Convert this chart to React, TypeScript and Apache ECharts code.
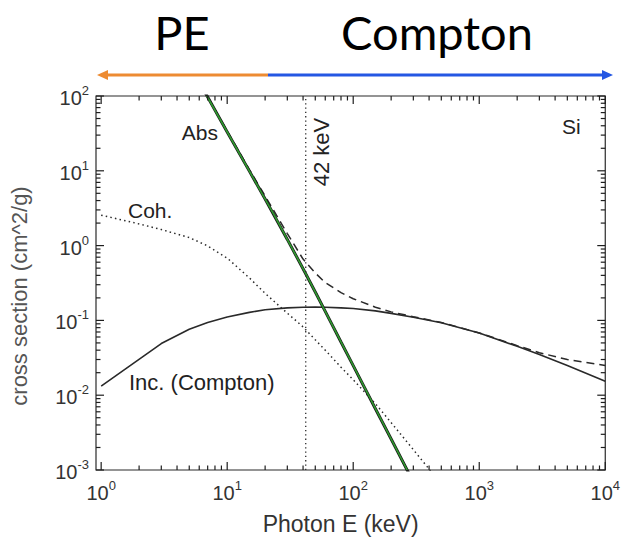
import React, { useEffect, useRef } from 'react';
import * as echarts from 'echarts';

// ---- data ----
const energyAbs = [5, 7, 10, 15, 20, 30, 40, 50, 60, 80, 100, 150, 200, 300];
const absValues = [267, 97, 33, 9.9, 4.2, 1.21, 0.49, 0.24, 0.132, 0.0515, 0.0249, 0.0066, 0.0026, 0.00069];

const energyFit = [6.9, 23.2, 42.3, 79.8, 268];
const fitValues = [100, 2.69, 0.413, 0.052, 0.001];

const energyCoh = [1, 2, 3, 5, 7, 10, 15, 20, 30, 40, 50, 60, 80, 100, 150, 200, 300, 400, 500];
const cohValues = [2.55, 1.95, 1.64, 1.28, 0.99, 0.68, 0.37, 0.23, 0.125, 0.082, 0.055, 0.04, 0.0237, 0.0161, 0.0077, 0.0043, 0.00187, 0.00103, 0.0006];

const energyInc = [1, 3, 5, 7, 10, 15, 20, 30, 40, 50, 60, 80, 100, 150, 200, 300, 500, 1000, 2000, 3000, 5000, 10000];
const incValues = [0.0132, 0.049, 0.076, 0.094, 0.111, 0.128, 0.139, 0.147, 0.15, 0.151, 0.15, 0.147, 0.144, 0.134, 0.124, 0.11, 0.093, 0.068, 0.045, 0.035, 0.025, 0.0154];

const energyTot = [5, 7, 10, 15, 20, 30, 40, 50, 60, 80, 100, 150, 200, 300, 500, 1000, 2000, 3000, 5000, 10000];
const totValues = [270, 98, 34, 10.4, 4.6, 1.45, 0.66, 0.43, 0.32, 0.235, 0.195, 0.15, 0.13, 0.112, 0.094, 0.068, 0.046, 0.037, 0.03, 0.025];

const edgeEnergy = 42;
const xDecades = [0, 1, 2, 3, 4];
const yDecades = [-3, -2, -1, 0, 1, 2];
const X_MIN = 0.91, X_MAX = 10000, Y_MIN = 0.001, Y_MAX = 100;

const FONT = '"Liberation Sans", Arial, Helvetica, sans-serif';
const INK = '#2a2a2a';
const MAJ = 8, MINOR = 4.5;

const pairs = (xs: number[], ys: number[]) => xs.map((x, i) => [x, ys[i]]);

// tick items: [x, y, length, kind(0 = x tick, 1 = y tick)]
const tickData: number[][] = [];
xDecades.forEach((d) => {
  const b = Math.pow(10, d);
  tickData.push([b, Y_MIN, MAJ, 0]);
  if (d < 4) for (let m = 2; m <= 9; m++) tickData.push([b * m, Y_MIN, MINOR, 0]);
});
yDecades.forEach((d) => {
  const b = Math.pow(10, d);
  tickData.push([X_MIN, b, MAJ, 1]);
  if (d < 2) for (let m = 2; m <= 9; m++) tickData.push([X_MIN, b * m, MINOR, 1]);
});

const isPow10 = (v: number) => {
  const l = Math.log10(v);
  return Math.abs(l - Math.round(l)) < 1e-6;
};
const powLabel = (v: number) => {
  if (!isPow10(v)) return '';
  const e = Math.round(Math.log10(v));
  return `{b|10}{s|${e}}`;
};
const rich = {
  b: { fontSize: 20, fontFamily: FONT, color: '#333', padding: [4, 0, 0, 0], verticalAlign: 'bottom' },
  s: { fontSize: 13, fontFamily: FONT, color: '#333', verticalAlign: 'top' },
};

export default function App() {
  const ref = useRef<HTMLDivElement>(null);
  useEffect(() => {
    if (!ref.current) return;
    const chart = echarts.init(ref.current, undefined, { renderer: 'svg' });
    const tickStyle = { stroke: '#1e1e1e', lineWidth: 1.2 };
    const renderTick = (params: any, api: any) => {
      const len = api.value(2);
      const kind = api.value(3);
      if (kind === 0) {
        const v = api.value(0);
        const pb = api.coord([v, Y_MIN]);
        const pt = api.coord([v, Y_MAX]);
        return {
          type: 'group', children: [
            { type: 'line', shape: { x1: pb[0], y1: pb[1], x2: pb[0], y2: pb[1] - len }, style: tickStyle },
            { type: 'line', shape: { x1: pt[0], y1: pt[1], x2: pt[0], y2: pt[1] + len }, style: tickStyle },
          ],
        };
      }
      const v = api.value(1);
      const pl = api.coord([X_MIN, v]);
      const pr = api.coord([X_MAX, v]);
      return {
        type: 'group', children: [
          { type: 'line', shape: { x1: pl[0], y1: pl[1], x2: pl[0] + len, y2: pl[1] }, style: tickStyle },
          { type: 'line', shape: { x1: pr[0], y1: pr[1], x2: pr[0] - len, y2: pr[1] }, style: tickStyle },
        ],
      };
    };
    const option: any = {
      animation: false,
      grid: { left: 93, right: 16, top: 96, bottom: 65, show: true, borderColor: INK, borderWidth: 1.2, backgroundColor: 'transparent' },
      xAxis: {
        type: 'log', logBase: 10, min: X_MIN, max: X_MAX,
        axisLine: { show: false }, axisTick: { show: false }, splitLine: { show: false },
        axisLabel: { formatter: powLabel, rich, margin: 9, showMinLabel: true, showMaxLabel: true },
        name: 'Photon E (keV)', nameLocation: 'middle', nameGap: 42,
        nameTextStyle: { fontSize: 23, fontFamily: FONT, color: '#333', padding: [0, 20, 0, 0] },
      },
      yAxis: {
        type: 'log', logBase: 10, min: Y_MIN, max: Y_MAX,
        axisLine: { show: false }, axisTick: { show: false }, splitLine: { show: false },
        axisLabel: { formatter: powLabel, rich, margin: 7, showMinLabel: true, showMaxLabel: true },
        name: 'cross section (cm^2/g)', nameLocation: 'middle', nameGap: 66,
        nameTextStyle: { fontSize: 22, fontFamily: FONT, color: '#555', padding: [0, 26, 0, 0] },
      },
      series: [
        { name: 'ticks', type: 'custom', data: tickData, renderItem: renderTick, clip: false, silent: true, z: 5,
          encode: { x: 0, y: 1 } },
        { name: 'Coh.', type: 'line', data: pairs(energyCoh, cohValues), showSymbol: false, silent: true,
          lineStyle: { color: INK, width: 1.5, type: [1.5, 3.2] } },
        { name: 'Inc. (Compton)', type: 'line', data: pairs(energyInc, incValues), showSymbol: false, silent: true,
          lineStyle: { color: INK, width: 1.6 } },
        { name: 'Total', type: 'line', data: pairs(energyTot, totValues), showSymbol: false, silent: true,
          lineStyle: { color: INK, width: 1.5, type: [8, 5] } },
        { name: 'Abs', type: 'line', data: pairs(energyAbs, absValues), showSymbol: false, silent: true,
          lineStyle: { color: '#1a1a1a', width: 3 } },
        { name: 'fit', type: 'line', data: pairs(energyFit, fitValues), showSymbol: false, silent: true,
          lineStyle: { color: '#2f9a2f', width: 1.6 } },
        { name: '42 keV', type: 'line', data: [[edgeEnergy, Y_MIN], [edgeEnergy, Y_MAX]], showSymbol: false, silent: true,
          lineStyle: { color: INK, width: 1.3, type: [1.3, 3] } },
      ],
    };

    const txt = (text: string, x: number, y: number, size: number, align = 'left', extra: any = {}) => ({
      type: 'text', silent: true, x, y, ...extra,
      style: { text, fontSize: size, fontFamily: FONT, fill: '#222', textAlign: align, textVerticalAlign: 'middle' },
    });
    const title = (text: string, x: number) => ({
      type: 'text', silent: true, x, y: 32,
      style: { text, fontSize: 47, fontFamily: 'Lato, "Open Sans", sans-serif', fill: '#000', textAlign: 'center', textVerticalAlign: 'middle' },
    });
    option.graphic = [
      title('PE', 182),
      title('Compton', 437),
      { type: 'line', silent: true, shape: { x1: 104, y1: 75, x2: 268, y2: 75 }, style: { stroke: '#ED8B32', lineWidth: 3 } },
      { type: 'line', silent: true, shape: { x1: 268, y1: 75, x2: 606, y2: 75 }, style: { stroke: '#2457E3', lineWidth: 3 } },
      { type: 'polygon', silent: true, shape: { points: [[97, 75], [108, 70], [108, 80]] }, style: { fill: '#ED8B32' } },
      { type: 'polygon', silent: true, shape: { points: [[613, 75], [602, 70], [602, 80]] }, style: { fill: '#2457E3' } },
      txt('Abs', 218, 132, 21, 'right'),
      txt('Coh.', 128, 210, 21),
      txt('Inc. (Compton)', 129, 382, 22),
      txt('Si', 562, 126, 21),
      txt('42 keV', 321, 152, 22, 'center', { rotation: Math.PI / 2 }),
    ];
    chart.setOption(option);

    return () => chart.dispose();
  }, []);
  return <div ref={ref} style={{ position: 'fixed', left: 0, top: 0, width: 623, height: 540, background: '#fff' }} />;
}
